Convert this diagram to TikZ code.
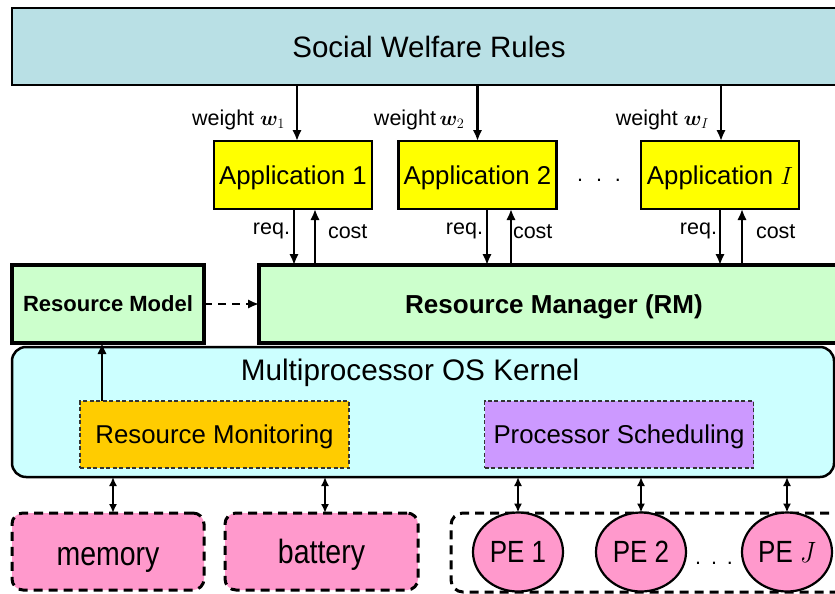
\documentclass[tikz,border=0pt]{standalone}
\usepackage{fontspec}
\setmainfont{Liberation Sans}
\usepackage{bm}
\usetikzlibrary{arrows.meta,calc,shapes.geometric}

\definecolor{swfill}{RGB}{185,224,229}
\definecolor{appfill}{RGB}{255,255,0}
\definecolor{rmfill}{RGB}{204,255,204}
\definecolor{kernfill}{RGB}{204,255,255}
\definecolor{monfill}{RGB}{255,204,0}
\definecolor{schedfill}{RGB}{204,153,255}
\definecolor{hwfill}{RGB}{255,153,204}

\newcommand{\fs}[1]{\fontsize{#1}{#1}\selectfont}
\newcommand{\tall}[1]{\scalebox{1}[1.18]{#1}}

\begin{document}
\begin{tikzpicture}[x=1pt,y=-1pt,
  every node/.style={inner sep=0pt, outer sep=0pt},
  swbox/.style={draw, line width=2.8, fill=swfill, font=\fs{29.5}, text depth=0pt},
  appbox/.style={draw, line width=2.5, fill=appfill, minimum width=158, minimum height=68, font=\fs{25.8}, text depth=0pt},
  mgrbox/.style={draw, line width=3.5, fill=rmfill, minimum height=78, font=\bfseries\fs{22}, text depth=0pt},
  kernbox/.style={draw, line width=2.5, fill=kernfill, rounded corners=14},
  osbox/.style={draw=black!80, line width=1.2, dash pattern=on 4 off 2.5, minimum width=269, minimum height=67, font=\fs{25.8}, text depth=0pt},
  hwbox/.style={draw, line width=3, dash pattern=on 9 off 6, fill=hwfill, rounded corners=11, minimum height=77, font=\fs{28.5}, text depth=0pt},
  pebox/.style={draw, line width=3, dash pattern=on 9 off 6, rounded corners=12},
  pe/.style={draw, ellipse, line width=2.2, fill=hwfill, minimum width=90, minimum height=79, font=\fs{26}, text depth=0pt},
  lbl/.style={font=\fs{21.5}},
  arr/.style={line width=2.2, -{Latex[length=11,width=9.5]}},
  dashedarr/.style={line width=2.5, dash pattern=on 8 off 6, -{Latex[length=11,width=9.5]}},
  dbl/.style={line width=1.6, {Latex[length=9,width=8]}-{Latex[length=9,width=8]}}
]
\clip (0,0) rectangle (835,594);
\fill[white] (0,0) rectangle (835,594);

% top layer: welfare rules and applications
\node[swbox, minimum width=834, minimum height=77] (sw) at (429,46.5) {Social Welfare Rules};

\node[appbox] (app1) at (293,175) {Application 1};
\node[appbox] (app2) at (477.5,175) {Application 2};
\node[appbox] (appI) at (720,175) {Application $I$};
\node[lbl] (dots) at (599,180) {.\hspace{13pt}.\hspace{13pt}.};

\coordinate (w1) at ($(app1.north)+(4,0)$);
\coordinate (w2) at ($(app2.north)+(0,0)$);
\coordinate (wI) at ($(appI.north)+(1,0)$);
\draw[arr] (sw.south -| w1) -- (w1)
  node[lbl, pos=0.62, anchor=east, xshift=-12] {weight $\bm{w}_1$};
\draw[arr] (sw.south -| w2) -- (w2)
  node[lbl, pos=0.62, anchor=east, xshift=-13] {weight\,$\bm{w}_2$};
\draw[arr] (sw.south -| wI) -- (wI)
  node[lbl, pos=0.62, anchor=east, xshift=-12] {weight $\bm{w}_I$};

% resource manager layer
\node[mgrbox, minimum width=192] (model) at (108,304) {Resource Model};
\node[mgrbox, minimum width=590, font=\bfseries\fs{26}] (rm) at (554,304) {Resource Manager (RM)};
\draw[dashedarr] (model.east) -- (rm.west);

% requests and costs
\coordinate (q1) at ($(app1.south)+(1,0)$);
\coordinate (c1) at ($(app1.south)+(22,0)$);
\coordinate (q2) at ($(app2.south)+(9.5,0)$);
\coordinate (c2) at ($(app2.south)+(33.5,0)$);
\coordinate (qI) at ($(appI.south)+(0,0)$);
\coordinate (cI) at ($(appI.south)+(22,0)$);

\draw[arr] (q1) -- (q1 |- rm.north) node[lbl, pos=0.4, anchor=east, xshift=-4] {req.};
\draw[arr] (c1 |- rm.north) -- (c1) node[lbl, pos=0.6, anchor=west, xshift=13] {cost};
\draw[arr] (q2) -- (q2 |- rm.north) node[lbl, pos=0.4, anchor=east, xshift=-4] {req.};
\draw[arr] (c2 |- rm.north) -- (c2) node[lbl, pos=0.6, anchor=west, xshift=2] {cost};
\draw[arr] (qI) -- (qI |- rm.north) node[lbl, pos=0.4, anchor=east, xshift=-3] {req.};
\draw[arr] (cI |- rm.north) -- (cI) node[lbl, pos=0.6, anchor=west, xshift=14] {cost};

% operating system kernel
\node[kernbox, minimum width=822, minimum height=130] (kernel) at (423,412) {};
\node[font=\fs{29.7}, text depth=0pt] (ktitle) at (410,370) {Multiprocessor OS Kernel};
\node[osbox, fill=monfill] (mon) at (214.5,434.5) {Resource Monitoring};
\node[osbox, fill=schedfill] (sched) at (619,434.5) {Processor Scheduling};

\coordinate (m1) at ($(mon.north west)+(22,0)$);
\draw[arr] (m1) -- (m1 |- model.south);

% hardware resources
\node[hwbox, minimum width=192] (mem) at (108,551.5) {\tall{\raisebox{-8pt}{memory}}};
\node[hwbox, minimum width=193] (bat) at (321.5,551.5) {\tall{battery}};
\node[pebox, minimum width=420, minimum height=79] (pes) at (661,552.5) {};
\node[pe] (pe1) at (518,552) {\tall{PE 1}};
\node[pe] (pe2) at (641,552) {\tall{PE 2}};
\node[pe] (peJ) at (787,552) {\tall{PE $J$}};
\node[lbl] (pedots) at (714,563) {.\hspace{10pt}.\hspace{10pt}.};

\coordinate (d1) at ($(mem.north)+(5,0)$);
\coordinate (d2) at ($(bat.north)+(3.5,0)$);
\foreach \d in {d1,d2,pe1.north,pe2.north,peJ.north}
  \draw[dbl] (kernel.south -| \d) -- (\d);
\end{tikzpicture}
\end{document}
